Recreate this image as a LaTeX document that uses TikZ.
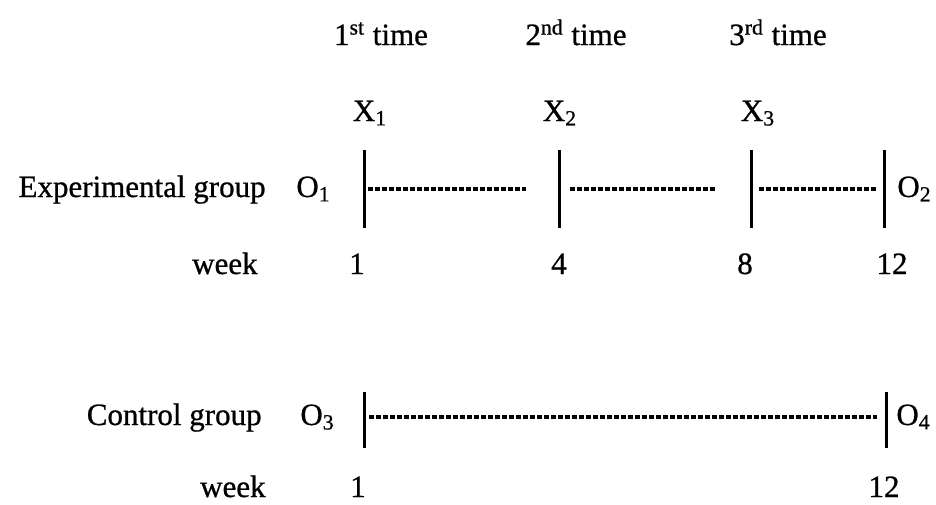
\documentclass[tikz,border=0pt]{standalone}
\usepackage{fontspec}
\setmainfont{Liberation Serif}[UprightFeatures={FakeBold=0.8}]
\begin{document}
\begin{tikzpicture}[
        x=0.5pt, y=-0.5pt,
        lbl/.style={font=\fontsize{15.5}{18}\selectfont, inner sep=0pt},
        rowlbl/.style={lbl, anchor=base east},
        obs/.style={lbl, anchor=base west},
        num/.style={lbl, anchor=base},
        bar/.style={line width=1.5pt},
        link/.style={line width=1.7pt, dash pattern=on 2.4pt off 1.1pt}
    ]
    \useasboundingbox (0,0) rectangle (936,504);

    \node[num] (time1) at (381,45) {1\textsuperscript{st} time};
    \node[num] (time2) at (576,45) {2\textsuperscript{nd} time};
    \node[num] (time3) at (778,45) {3\textsuperscript{rd} time};

    \node[num] (x1) at (370,121) {X\textsubscript{1}};
    \node[num] (x2) at (560,121) {X\textsubscript{2}};
    \node[num] (x3) at (758,121) {X\textsubscript{3}};

    \node[rowlbl] (expgroup) at (266,197) {Experimental group};
    \node[obs]    (o1) at (296,197) {O\textsubscript{1}};
    \node[obs]    (o2) at (897,197) {O\textsubscript{2}};
    \node[rowlbl] (expweek) at (258,274) {week};

    \foreach \n/\x in {1/364, 2/559, 3/751, 4/884} {
        \coordinate (et\n) at (\x,150);
        \coordinate (eb\n) at (\x,228);
        \draw[bar] (et\n) -- (eb\n);
    }
    \foreach \n/\x/\w in {1/357/1, 2/559/4, 3/745/8, 4/892/12}
        \node[num] (ew\n) at (\x,274) {\w};

    \coordinate (es1) at (368,189);  \coordinate (ee1) at (526,189);
    \coordinate (es2) at (570,189);  \coordinate (ee2) at (715,189);
    \coordinate (es3) at (759,189);  \coordinate (ee3) at (876,189);
    \draw[link] (es1) -- (ee1);
    \draw[link] (es2) -- (ee2);
    \draw[link] (es3) -- (ee3);

    \node[rowlbl] (ctrlgroup) at (262,425) {Control group};
    \node[obs]    (o3) at (300,425) {O\textsubscript{3}};
    \node[obs]    (o4) at (896,425) {O\textsubscript{4}};
    \node[rowlbl] (ctrlweek) at (266,497) {week};

    \coordinate (ct1) at (364,392);  \coordinate (cb1) at (364,448);
    \coordinate (ct2) at (886,392);  \coordinate (cb2) at (886,448);
    \draw[bar] (ct1) -- (cb1);
    \draw[bar] (ct2) -- (cb2);
    \node[num] (cw1) at (358,497) {1};
    \node[num] (cw2) at (884,497) {12};

    \coordinate (cs) at (369,417);  \coordinate (ce) at (877,417);
    \draw[link] (cs) -- (ce);
\end{tikzpicture}
\end{document}
